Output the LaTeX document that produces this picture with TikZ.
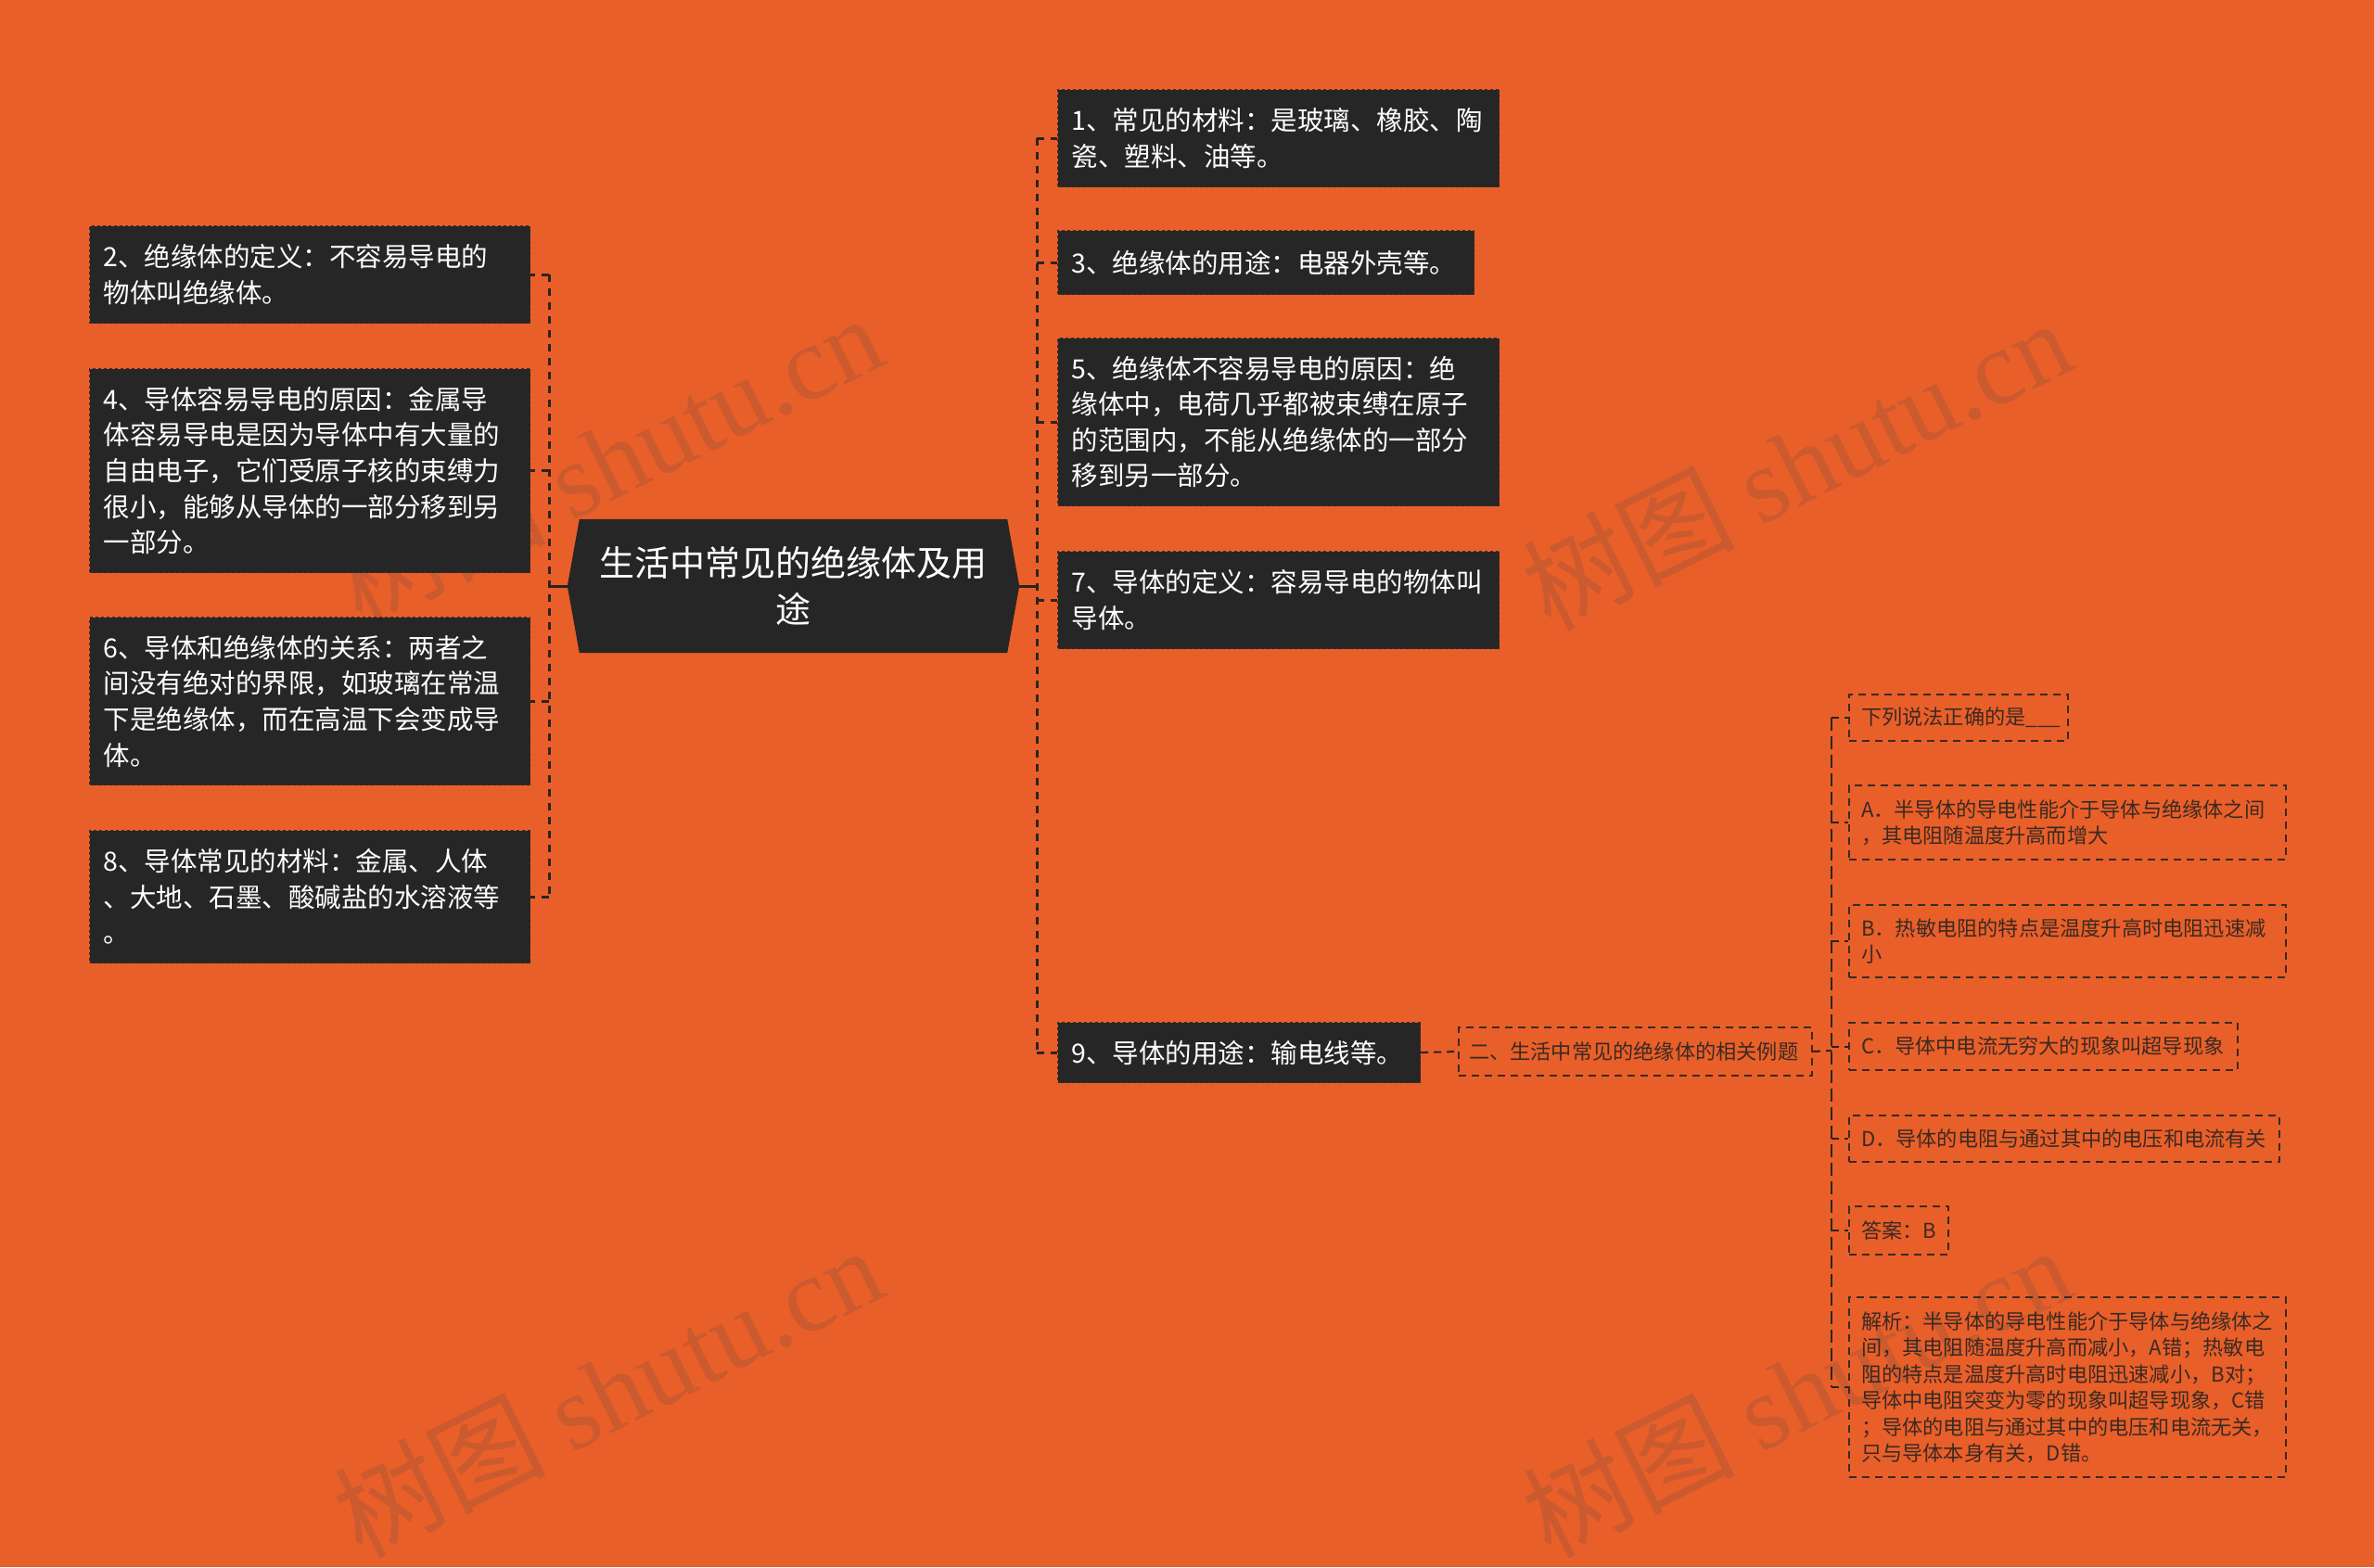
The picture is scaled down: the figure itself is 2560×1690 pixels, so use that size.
\documentclass[tikz,border=0pt]{standalone}
\usepackage{fontspec}
\setmainfont{Noto Sans CJK SC}
\newfontfamily\wmserif{Liberation Serif}
\usetikzlibrary{backgrounds}
\definecolor{bgc}{HTML}{E95F2A}
\definecolor{boxc}{HTML}{262626}
\definecolor{linec}{HTML}{2A2420}
\definecolor{ltext}{HTML}{3A2A22}
\definecolor{wmc}{HTML}{CB5A2F}
\tikzset{
  darkbox/.style={fill=boxc, draw=boxc!85!bgc, dashed, line width=1.2pt, text=white,
    font=\fontsize{28.5}{38.6}\selectfont, align=left, inner xsep=15pt, inner ysep=0pt,
    anchor=north west},
  lightbox/.style={draw=ltext, dash pattern=on 8pt off 6pt, line width=2pt, text=ltext,
    font=\fontsize{22.2}{28.5}\selectfont, align=left, inner xsep=13pt, inner ysep=0pt,
    anchor=north west},
  conn/.style={draw=linec, line width=3pt, dash pattern=on 8pt off 7pt},
  sconn/.style={draw=linec, line width=3pt},
  wm/.style={text=wmc, rotate=26.6, inner sep=0pt}
}
\begin{document}
\begin{tikzpicture}[x=1pt,y=-1pt]
\useasboundingbox (0,0) rectangle (2560,1690);
\begin{scope}[on background layer]
\fill[bgc] (0,0) rectangle (2560,1690);
\end{scope}

% watermarks
\node[wm] (wm1) at (655,495) {\fontsize{114}{114}\selectfont 树图 \wmserif shutu.cn};
\node[wm] (wm2) at (1937,500) {\fontsize{114}{114}\selectfont 树图 \wmserif shutu.cn};
\node[wm] (wm3) at (655,1500) {\fontsize{114}{114}\selectfont 树图 \wmserif shutu.cn};
\node[wm] (wm4) at (1937,1500) {\fontsize{114}{114}\selectfont 树图 \wmserif shutu.cn};

% central node
\node[minimum width=487pt, minimum height=144pt, inner sep=0pt, text=white, align=center,
  font=\fontsize{38}{50.6}\selectfont] (c) at (855.5,632) {生活中常见的绝缘体及用\\途};
\begin{scope}[on background layer]
\fill[boxc] ([xshift=13pt]c.north west) -- ([xshift=-13pt]c.north east) -- (c.east)
  -- ([xshift=-13pt]c.south east) -- ([xshift=13pt]c.south west) -- (c.west) -- cycle;
\end{scope}

% right dark boxes
\node[darkbox, minimum width=476pt, minimum height=105pt, text width=446pt] (n1) at (1140,96)
  {1、常见的材料：是玻璃、橡胶、陶\\瓷、塑料、油等。};
\node[darkbox, minimum width=449pt, minimum height=69pt, text width=419pt] (n3) at (1140,248)
  {3、绝缘体的用途：电器外壳等。};
\node[darkbox, minimum width=476pt, minimum height=181pt, text width=446pt] (n5) at (1140,364)
  {5、绝缘体不容易导电的原因：绝\\缘体中，电荷几乎都被束缚在原子\\的范围内，不能从绝缘体的一部分\\移到另一部分。};
\node[darkbox, minimum width=476pt, minimum height=105pt, text width=446pt] (n7) at (1140,594)
  {7、导体的定义：容易导电的物体叫\\导体。};
\node[darkbox, minimum width=391pt, minimum height=65pt, text width=361pt] (n9) at (1140,1102)
  {9、导体的用途：输电线等。};

% left dark boxes
\node[darkbox, minimum width=475pt, minimum height=105pt, text width=445pt] (n2) at (96,243)
  {2、绝缘体的定义：不容易导电的\\物体叫绝缘体。};
\node[darkbox, minimum width=475pt, minimum height=220pt, text width=445pt] (n4) at (96,397)
  {4、导体容易导电的原因：金属导\\体容易导电是因为导体中有大量的\\自由电子，它们受原子核的束缚力\\很小，能够从导体的一部分移到另\\一部分。};
\node[darkbox, minimum width=475pt, minimum height=181pt, text width=445pt] (n6) at (96,665)
  {6、导体和绝缘体的关系：两者之\\间没有绝对的界限，如玻璃在常温\\下是绝缘体，而在高温下会变成导\\体。};
\node[darkbox, minimum width=475pt, minimum height=143pt, text width=445pt] (n8) at (96,895)
  {8、导体常见的材料：金属、人体\\、大地、石墨、酸碱盐的水溶液等\\。};

% light boxes
\node[lightbox, minimum width=381pt, minimum height=52pt, inner xsep=11pt, text width=359pt] (ex) at (1572,1107)
  {二、生活中常见的绝缘体的相关例题};
\node[lightbox, minimum width=236pt, minimum height=50pt, text width=210pt] (q) at (1993,748)
  {下列说法正确的是\_\_\_};
\node[lightbox, minimum width=471pt, minimum height=80pt, text width=445pt] (oa) at (1993,846)
  {A．半导体的导电性能介于导体与绝缘体之间\\，其电阻随温度升高而增大};
\node[lightbox, minimum width=471pt, minimum height=78pt, text width=445pt] (ob) at (1993,975)
  {B．热敏电阻的特点是温度升高时电阻迅速减\\小};
\node[lightbox, minimum width=419pt, minimum height=51pt, text width=393pt] (oc) at (1993,1102)
  {C．导体中电流无穷大的现象叫超导现象};
\node[lightbox, minimum width=464pt, minimum height=50pt, text width=438pt] (od) at (1993,1202)
  {D．导体的电阻与通过其中的电压和电流有关};
\node[lightbox, minimum width=107pt, minimum height=52pt, text width=81pt] (ans) at (1993,1300)
  {答案：B};
\node[lightbox, minimum width=471pt, minimum height=194pt, text width=445pt] (jx) at (1993,1398)
  {解析：半导体的导电性能介于导体与绝缘体之\\间，其电阻随温度升高而减小，A错；热敏电\\阻的特点是温度升高时电阻迅速减小，B对；\\导体中电阻突变为零的现象叫超导现象，C错\\；导体的电阻与通过其中的电压和电流无关，\\只与导体本身有关，D错。};

% connectors: left
\coordinate (lt) at (592,632);
\draw[sconn] (c.west) -- (lt);
\draw[conn] (lt |- n2.east) -- (lt |- n8.east);
\foreach \n in {n2,n4,n6,n8} \draw[conn] (lt |- \n.east) -- (\n.east);

% connectors: right
\coordinate (rt) at (1118,632);
\draw[sconn] (c.east) -- (rt);
\draw[conn] (rt |- n1.west) -- (rt |- n9.west);
\foreach \n in {n1,n3,n5,n7,n9} \draw[conn] (rt |- \n.west) -- (\n.west);

% connectors: example sub-tree
\draw[conn, line width=2pt, dash pattern=on 8pt off 6pt] (n9.east) -- (ex.west);
\coordinate (et) at (1975,1133);
\draw[conn, line width=2pt, dash pattern=on 8pt off 6pt] (ex.east) -- (et);
\draw[conn, line width=2pt, dash pattern=on 14pt off 6pt] (et |- q.west) -- (et |- jx.west);
\foreach \n in {q,oa,ob,oc,od,ans,jx} \draw[conn, line width=2pt, dash pattern=on 8pt off 6pt] (et |- \n.west) -- (\n.west);
\end{tikzpicture}
\end{document}
